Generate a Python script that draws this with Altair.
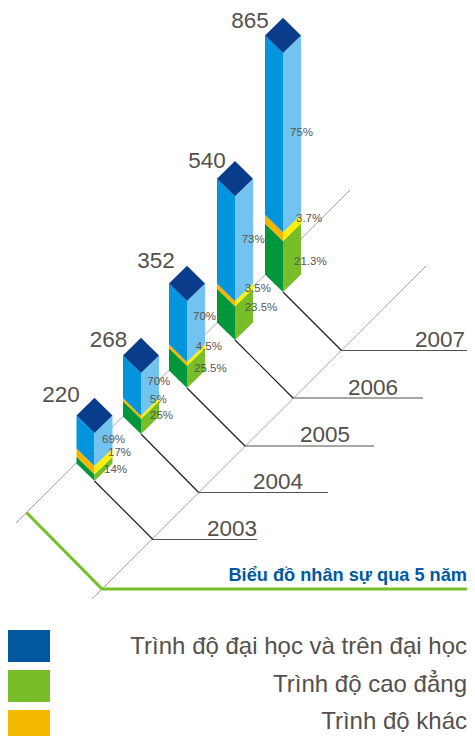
import altair as alt
import pandas as pd

# ---- data ----
years = ["2003", "2004", "2005", "2006", "2007"]
totals = [220, 268, 352, 540, 865]
share_univ = [69, 70, 70, 73, 75]
share_other = [17, 5, 4.5, 3.5, 3.7]
share_college = [14, 25, 25.5, 23.5, 21.3]
share_text = [("69%", "17%", "14%"), ("70%", "5%", "25%"), ("70%", "4.5%", "25.5%"),
              ("73%", "3.5%", "23.5%"), ("75%", "3.7%", "21.3%")]
legend_names = ["Trình độ đại học và trên đại học", "Trình độ cao đẳng", "Trình độ khác"]
title_text = "Biểu đồ nhân sự qua 5 năm"

# isometric layout
drawn_height = [48, 61, 87, 143.7, 239]
foot_x = [94.5, 141, 187, 235, 283]
foot_y = [481, 434, 388, 340, 292]
HW, HH = 18, 17.6
corner_x = [153, 198.7, 245, 293, 341.5]
corner_y = [539.5, 492.5, 446, 398, 350.5]
year_line_end = [257, 328, 374, 423, 470]
year_label_right = [257, 303, 350, 398, 465]
total_label_x = [61, 108.5, 156, 207, 250]
total_label_y = [401.5, 346.5, 267.5, 167.5, 27.5]
pct_label_x = [(102, 108, 104), (147.3, 150, 150), (193, 195.7, 194), (241.7, 244.7, 244.7), (290, 296, 294)]
pct_label_y = [(443, 456, 473), (385, 403, 419), (320, 350, 371.7), (243, 291.7, 311), (136, 222, 264.7)]

BLUE_L, BLUE_R, NAVY = "#0095DC", "#73C3F0", "#0A3C8C"
OR_L, YE_R = "#F5B400", "#FFF000"
GR_L, GR_R = "#00963C", "#78BE28"
TXT = "#55504B"
FONT = "Liberation Sans"

xs = alt.Scale(domain=[8, 467])
ys = alt.Scale(domain=[736, 8])
X = lambda f="x": alt.X(f"{f}:Q", scale=xs, axis=None)
Y = lambda f="y": alt.Y(f"{f}:Q", scale=ys, axis=None)

# faces
faces = []
def face(fid, x0, x1, y0a, y0b, y1a, y1b, color):
    faces.append(dict(id=fid, x=x0, y=y0a, y2=y0b, fill=color))
    faces.append(dict(id=fid, x=x1, y=y1a, y2=y1b, fill=color))

for i in range(5):
    cx, fy, h = foot_x[i], foot_y[i], drawn_height[i]
    lx, rx = cx - HW, cx + HW
    h_col = h * share_college[i] / 100
    h_oth = h * share_other[i] / 100
    for j, (a, b, cl, cr) in enumerate([
        (0, h_col, GR_L, GR_R),
        (h_col, h_col + h_oth, OR_L, YE_R),
        (h_col + h_oth, h, BLUE_L, BLUE_R),
    ]):
        face(f"{i}-{j}-l", lx, cx, fy - HH - b, fy - HH - a, fy - b, fy - a, cl)
        face(f"{i}-{j}-r", cx, rx, fy - b, fy - a, fy - HH - b, fy - HH - a, cr)
    # top diamond
    ty = fy - h
    faces.append(dict(id=f"{i}-top", x=lx, y=ty - HH, y2=ty - HH, fill=NAVY))
    faces.append(dict(id=f"{i}-top", x=cx, y=ty - 2 * HH, y2=ty, fill=NAVY))
    faces.append(dict(id=f"{i}-top", x=rx, y=ty - HH, y2=ty - HH, fill=NAVY))

bars = alt.Chart(pd.DataFrame(faces)).mark_area(interpolate="linear", orient="vertical", opacity=1).encode(
    x=X(), y=Y(), y2=alt.Y2("y2:Q"), detail="id:N", color=alt.Color("fill:N", scale=None)
)

def lines(rows, color, width):
    d = pd.DataFrame([dict(id=k, ord=n, x=p[0], y=p[1]) for k, r in enumerate(rows) for n, p in enumerate(r)])
    return alt.Chart(d).mark_line(color=color, strokeWidth=width, interpolate="linear").encode(
        x=X(), y=Y(), detail="id:N", order="ord:Q")

thin = lines([[(16, 523), (350, 190)], [(92, 599), (426, 266)]], "#8C8C8C", 0.8)
floor = lines([[(foot_x[i], foot_y[i]), (corner_x[i], corner_y[i])] for i in range(5)], "#1E1E1E", 1.2)
year_rules = lines([[(corner_x[i], corner_y[i]), (year_line_end[i], corner_y[i])] for i in range(5)], "#55504B", 1.2)
green = lines([[(26.5, 512.5), (102, 589), (471.5, 589)]], "#78BE28", 3.2)

def texts(xl, yl, tl, size, align, color=TXT, weight="normal"):
    d = pd.DataFrame(dict(x=xl, y=yl, t=tl))
    return alt.Chart(d).mark_text(fontSize=size, align=align, baseline="alphabetic", font=FONT,
                                  color=color, fontWeight=weight).encode(x=X(), y=Y(), text="t:N")

total_labels = texts(total_label_x, total_label_y, [str(v) for v in totals], 22.5, "center")
year_labels = texts(year_label_right, [536, 489, 442, 395, 347], years, 22.5, "right")
pct_labels = texts([v for r in pct_label_x for v in r], [v for r in pct_label_y for v in r],
                   [v for r in share_text for v in r], 11.5, "left", color="#5A5550")
title = texts([467], [581], [title_text], 18.2, "right", color="#0059A0", weight="bold")
legend_text = texts([467, 467, 467], [654, 692, 729], legend_names, 24, "right")

legend_boxes = alt.Chart(pd.DataFrame(dict(
    x=[8, 8, 8], x2=[50, 50, 50], y=[630, 670, 710], y2=[662, 702, 736],
    fill=["#00599F", "#78BE28", "#F5B900"]))).mark_rect(strokeWidth=0).encode(
    x=X(), x2="x2:Q", y=Y(), y2="y2:Q", color=alt.Color("fill:N", scale=None))

chart = alt.layer(thin, floor, year_rules, green, bars, total_labels, year_labels, pct_labels,
                  title, legend_boxes, legend_text).properties(
    width=459, height=728, padding=0, autosize=alt.AutoSizeParams(type="none")
).configure_view(stroke=None)

chart.save("out.html", embed_options={"renderer": "svg", "actions": False})
